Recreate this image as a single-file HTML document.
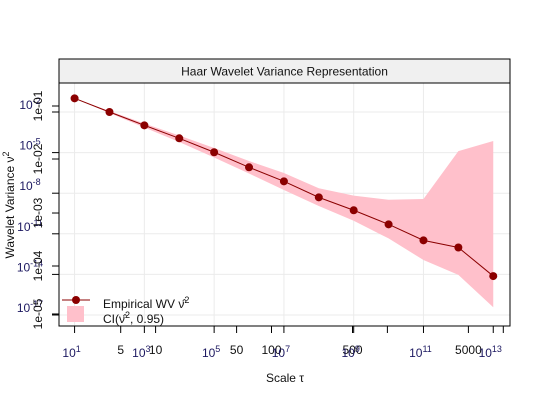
<!DOCTYPE html>
<html><head><meta charset="utf-8"><style>
body{margin:0;background:#fff;}
svg{display:block;font-family:"Liberation Sans",sans-serif;}
</style></head><body>
<svg id="chart" width="540" height="400" viewBox="0 0 540 400" xmlns="http://www.w3.org/2000/svg">
<rect x="0" y="0" width="540" height="400" fill="#fff"/>
<rect x="59" y="59" width="451" height="24" fill="#f0f0f0" stroke="#000" stroke-width="1"/>
<text x="284.5" y="75.5" font-size="12" text-anchor="middle" fill="#111">Haar Wavelet Variance Representation</text>
<g id="grid"></g>
<g id="band"></g>
<g id="series"></g>
<rect x="59" y="83" width="451" height="243" fill="none" stroke="#000" stroke-width="1"/>
<g id="axes"></g>
<text x="285" y="382" font-size="12" text-anchor="middle" fill="#111">Scale τ</text>
<text transform="translate(14,205) rotate(-90)" font-size="12" text-anchor="middle" fill="#111">Wavelet Variance ν<tspan dy="-5" font-size="9">2</tspan></text>
<g>
<line x1="62" y1="300" x2="90" y2="300" stroke="#8b0000" stroke-width="1"/>
<circle cx="76" cy="300" r="4" fill="#8b0000"/>
<rect x="67" y="306" width="17" height="16" fill="#ffc0cb"/>
<text x="103" y="308" font-size="12" fill="#111">Empirical WV ν̂<tspan dy="-5" font-size="9">2</tspan></text>
<text x="103" y="323" font-size="12" fill="#111">CI(ν̂<tspan dy="-5" font-size="9">2</tspan><tspan dy="5">, 0.95)</tspan></text>
</g>
</svg>
<script>
const scales = [2,4,8,16,32,64,128,256,512,1024,2048,4096,8192];
const wv = [0.217,0.1,0.047,0.0225,0.0102,0.00435,0.00196,0.00079,0.00038,0.000171,0.000069,0.000046,0.0000091];
const ciUpper = [0.217,0.106,0.052,0.0264,0.013,0.0062,0.00315,0.00132,0.00087,0.00069,0.00072,0.0109,0.0193];
const ciLower = [0.217,0.0945,0.0415,0.0182,0.00757,0.00305,0.0012,0.000484,0.00021,0.000077,0.0000226,0.0000097,0.00000155];
const xTicksA = [5,10,50,100,500,1000,5000,10000];
const xLabelsA = ["5","10","50","100","500","","5000",""];
const xTicksB = [2,8,32,128,512,2048,8192];
const xLabelsB = ["1","3","5","7","9","11","13"];
const yGrid = [1e-1,1e-2,1e-3,1e-4,1e-5,1e-6];
const yTicksA = [0.1406,0.00695,0.000325,0.0000161,0.00000106];
const yLabelsA = ["1e-01","1e-02","1e-03","1e-04","1e-05"];
const yLabelsB = ["-2","-5","-8","-11","-14","-17"];

function xs(v){return 120.7 + 115.9*Math.log10(v/5);}
function ys(v){return 112 - 40.6*(Math.log10(v)+1);}
const NS="http://www.w3.org/2000/svg";
function mk(tag,attrs,parent){const e=document.createElementNS(NS,tag);for(const k in attrs)e.setAttribute(k,attrs[k]);parent.appendChild(e);return e;}
const grid=document.getElementById('grid'),band=document.getElementById('band'),ser=document.getElementById('series'),axes=document.getElementById('axes');

xTicksB.slice(0,6).forEach(t=>{
  const l=mk('line',{x1:xs(t),x2:xs(t),y1:83,y2:326,stroke:'#ebebeb','stroke-width':1},grid);
  
  
});
yGrid.forEach(t=>{
  const l=mk('line',{x1:59,x2:510,y1:ys(t),y2:ys(t),stroke:'#ebebeb','stroke-width':1},grid);
  
  
});

let pts=scales.map((s,i)=>xs(s)+','+ys(ciUpper[i]));
for(let i=scales.length-1;i>=0;i--)pts.push(xs(scales[i])+','+ys(ciLower[i]));
const poly=mk('polygon',{points:pts.join(' '),fill:'#ffc0cb'},band);



const pl=mk('polyline',{points:scales.map((s,i)=>xs(s)+','+ys(wv[i])).join(' '),fill:'none',stroke:'#8b0000','stroke-width':1},ser);


scales.forEach((s,i)=>{
  const c=mk('circle',{cx:xs(s),cy:ys(wv[i]),r:4,fill:'#8b0000'},ser);
  
  
});

xTicksA.forEach((t,i)=>{
  const l=mk('line',{x1:xs(t),x2:xs(t),y1:326,y2:333,stroke:'#000'},axes);
  
  
  if(xLabelsA[i]){const tx=mk('text',{x:xs(t),y:354,'font-size':12,'text-anchor':'middle',fill:'#111'},axes);tx.textContent=xLabelsA[i];
  
  }
});
xTicksB.forEach((t,i)=>{
  const l=mk('line',{x1:xs(t),x2:xs(t),y1:326,y2:333,stroke:'#000'},axes);
  
  
  const tx=mk('text',{x:xs(t)-3,y:357,'font-size':12,'text-anchor':'middle',fill:'#1c1860'},axes);
  
  
  tx.textContent='10';
  const sp=mk('tspan',{dy:-5,'font-size':9},tx);sp.textContent=xLabelsB[i];
});
yGrid.forEach((t,i)=>{
  const l=mk('line',{x1:52,x2:59,y1:ys(t),y2:ys(t),stroke:'#000'},axes);
  
  
  const tx=mk('text',{x:30,y:ys(t)-3,'font-size':12,'text-anchor':'middle',fill:'#1c1860'},axes);
  
  
  tx.textContent='10';
  const sp=mk('tspan',{dy:-5,'font-size':9},tx);sp.textContent=yLabelsB[i];
});
yTicksA.forEach((t,i)=>{
  const y=ys(t);
  const l=mk('line',{x1:52,x2:59,y1:y,y2:y,stroke:'#000'},axes);
  
  
  const tx=mk('text',{transform:'translate(42,'+y+') rotate(-90)','font-size':12,'text-anchor':'middle',fill:'#111'},axes);
  
  
  tx.textContent=yLabelsA[i];
});
</script>
</body></html>
